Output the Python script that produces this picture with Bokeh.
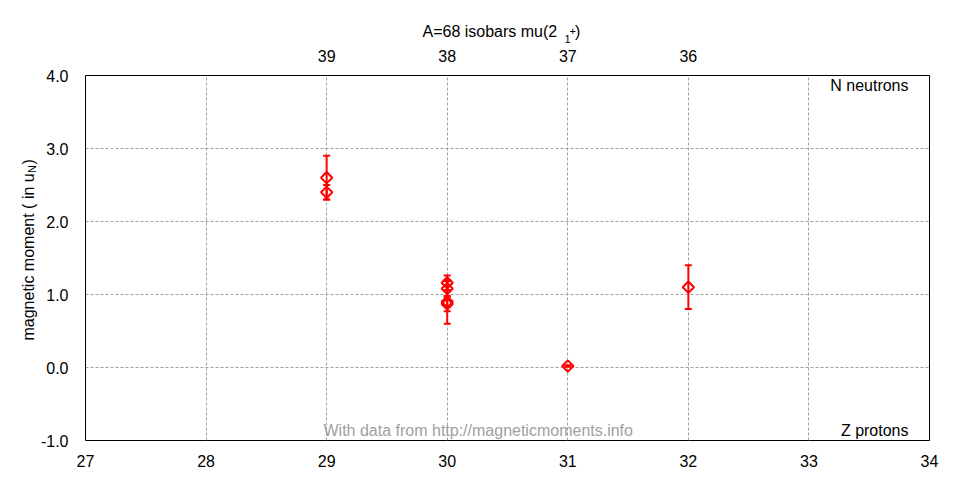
import math
from bokeh.plotting import figure
from bokeh.models import (ColumnDataSource, Whisker, TeeHead, LinearAxis, FixedTicker,
                          NumeralTickFormatter, Label, Range1d)
from bokeh.embed import file_html
from bokeh.resources import INLINE

# ---- data ----
z_protons = [29, 29, 30, 30, 30, 30, 31, 32]
moments = [2.6, 2.4, 1.16, 1.08, 0.90, 0.87, 0.02, 1.10]
errors = [0.30, 0.10, 0.10, 0.10, 0.30, 0.10, 0.01, 0.30]

x_ticks = [27, 28, 29, 30, 31, 32, 33, 34]
y_ticks = [-1, 0, 1, 2, 3, 4]
top_ticks = [29, 30, 31, 32]
top_tick_labels = ["39", "38", "37", "36"]

NB = "\u00a0"
title_main = "A=68 isobars mu(2" + NB * 4 + ")"
title_sub = "1"
title_sup = "+"
ylabel_main = "magnetic moment ( in u" + NB * 2 + ")"
ylabel_sub = "N"
credit = "With data from http://magneticmoments.info"

FONT = "Liberation Sans"

# pixel frame geometry in the picture
FL, FR, FT, FB = 85, 929, 75, 440
XMIN, XMAX, YMIN, YMAX = 27, 34, -1, 4


def dx(px):
    return XMIN + (px - FL) * (XMAX - XMIN) / (FR - FL)


def dy(py):
    return YMAX - (py - FT) * (YMAX - YMIN) / (FB - FT)


W, H = 944, 476
p = figure(width=W, height=H, output_backend="svg", toolbar_location=None,
           x_range=Range1d(XMIN, XMAX), y_range=Range1d(YMIN, YMAX),
           min_border_left=FL, min_border_right=W - FR,
           min_border_top=FT, min_border_bottom=H - FB,
           background_fill_color="white", border_fill_color="white")

p.outline_line_color = "black"
p.outline_line_width = 1

for ax in (p.xaxis[0], p.yaxis[0]):
    ax.axis_line_color = None
    ax.major_tick_line_color = None
    ax.minor_tick_line_color = None
    ax.major_label_text_font = FONT
    ax.major_label_text_font_size = "16px"
    ax.major_label_text_color = "black"

p.xaxis[0].ticker = FixedTicker(ticks=x_ticks)
p.xaxis[0].major_label_standoff = 8
p.yaxis[0].ticker = FixedTicker(ticks=y_ticks)
p.yaxis[0].formatter = NumeralTickFormatter(format="0.0")
p.yaxis[0].major_label_standoff = 11

top = LinearAxis(ticker=FixedTicker(ticks=top_ticks),
                 major_label_overrides={t: l for t, l in zip(top_ticks, top_tick_labels)})
top.axis_line_color = None
top.major_tick_line_color = None
top.minor_tick_line_color = None
top.major_label_text_font = FONT
top.major_label_text_font_size = "16px"
top.major_label_text_color = "black"
top.major_label_standoff = 8
p.add_layout(top, "above")

for g in (p.xgrid[0], p.ygrid[0]):
    g.grid_line_color = "#a0a0a0"
    g.grid_line_dash = "3 2"
    g.grid_line_width = 1
p.xgrid[0].ticker = FixedTicker(ticks=x_ticks)
p.ygrid[0].ticker = FixedTicker(ticks=y_ticks)

src = ColumnDataSource(dict(
    x=z_protons, y=moments,
    lower=[m - e for m, e in zip(moments, errors)],
    upper=[m + e for m, e in zip(moments, errors)],
))

wh = Whisker(base="x", lower="lower", upper="upper", source=src,
             line_color="red", line_width=2, level="glyph",
             upper_head=TeeHead(size=7, line_color="red", line_width=2),
             lower_head=TeeHead(size=7, line_color="red", line_width=2))
p.add_layout(wh)

p.scatter("x", "y", source=src, marker="square", angle=math.pi / 4, size=8,
          fill_color=None, line_color="red", line_width=2)


def lab(text, px, py, size="16px", color="black", align="left", angle=0.0, place="center"):
    lbl = Label(x=dx(px), y=dy(py), text=text, text_font=FONT, text_font_size=size,
                text_color=color, text_align=align, text_baseline="middle", angle=angle)
    p.add_layout(lbl, place)


# title (outside the frame -> side panels, positioned in data units)
lab(title_main, 422, 31, place="above")
lab(title_sup, 569, 30.5, size="11px", place="above")
lab(title_sub, 564, 38.5, size="11px", place="right")

# y label (rotated)
lab(ylabel_main, 28, 340, angle=math.pi / 2, place="left")
lab(ylabel_sub, 31.5, 172.5, size="11px", angle=math.pi / 2, place="left")

# texts inside the frame
lab("N neutrons", 908, 85, align="right")
lab("Z protons", 908, 430, align="right")
lab(credit, 323, 430, color="#a0a0a0")

open("out.html", "w").write(file_html(p, INLINE))
